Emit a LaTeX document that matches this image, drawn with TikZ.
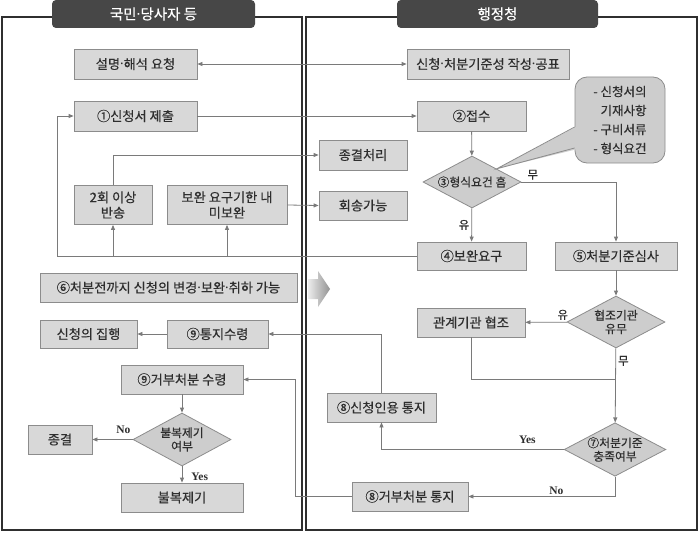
\documentclass[tikz,border=0pt]{standalone}
\usepackage{fontspec}
\setmainfont{Noto Sans CJK KR}[FakeBold=0.4]
\newfontfamily\tnr{Liberation Serif}
\newfontfamily\dotfont{Noto Sans}
\newcommand\mdot{{\dotfont ·}}
\usepackage{tikz}
\usetikzlibrary{arrows.meta, shapes.geometric, calc}
\definecolor{boxfill}{HTML}{D8D8D8}
\definecolor{dfill}{HTML}{CDCDCD}
\definecolor{boxline}{HTML}{8C8C8C}
\definecolor{conn}{HTML}{7A7A7A}
\definecolor{txt}{HTML}{2E2E2E}
\definecolor{tabfill}{HTML}{474747}
\definecolor{panelline}{HTML}{2F2F2F}

\begin{document}
\begin{tikzpicture}[x=1pt, y=-1pt, >={Triangle[length=5pt, width=4pt]},
    every node/.style={text=txt, font=\fontsize{13.2}{15.5}\selectfont},
    box/.style={draw=boxline, fill=boxfill, line width=0.8pt, inner sep=0pt, align=center},
    dbox/.style={diamond, draw=boxline, fill=dfill, line width=0.8pt, inner sep=0pt, aspect=1.9,
        align=center, minimum width=98, minimum height=52, font=\fontsize{11.8}{13.5}\selectfont},
    tab/.style={fill=tabfill, rounded corners=4pt, inner sep=0pt, minimum height=28,
        text=white, font=\fontsize{14.5}{16}\selectfont},
    note/.style={draw=boxline, fill=dfill, line width=0.8pt, rounded corners=12pt, inner sep=0pt,
        align=left, font=\fontsize{12.5}{19}\selectfont},
    panel/.style={draw=panelline, line width=1.6pt},
    line/.style={draw=conn, line width=0.8pt},
    yn/.style={font=\tnr\bfseries\fontsize{11.5}{13}\selectfont, inner sep=1pt},
    lab/.style={font=\fontsize{11.5}{13}\selectfont, inner sep=2pt}]
    \useasboundingbox (0,0) rectangle (700,532);

    \draw[panel] (2,17) rectangle (302,530);
    \draw[panel] (306,17) rectangle (697,530);
    \node[tab, minimum width=203] (lefttab) at (153.5,14) {국민\mdot 당사자 등};
    \node[tab, minimum width=201] (righttab) at (497.5,14) {행정청};

    \node[box, minimum width=123, minimum height=30] (req) at (135.5,64) {설명\mdot 해석 요청};
    \node[box, minimum width=162, minimum height=30] (pub) at (488,64) {신청\mdot 처분기준성 작성\mdot 공표};
    \node[box, minimum width=123, minimum height=30] (sub) at (135.5,116) {①신청서 제출};
    \node[box, minimum width=109, minimum height=30] (rcv) at (471.5,116) {②접수};
    \node[box, minimum width=88, minimum height=30] (close) at (363,155) {종결처리};
    \node[box, minimum width=88, minimum height=29] (ret) at (363,205.5) {회송가능};
    \node[box, minimum width=78, minimum height=39] (twice) at (113,205) {2회 이상\\반송};
    \node[box, minimum width=120, minimum height=39] (unfix) at (227,205) {보완 요구기한 내\\미보완};
    \node[dbox] (chk) at (472,182) {③형식요건 흠};
    \node[note, minimum width=90, minimum height=86] (memo) at (620,120)
        {- 신청서의\\\phantom{- }기재사항\\- 구비서류\\- 형식요건};
    \node[box, minimum width=109, minimum height=28] (fix) at (471.5,256) {④보완요구};
    \node[box, minimum width=122, minimum height=28] (rev) at (616,256) {⑤처분기준심사};
    \node[box, minimum width=257, minimum height=29] (chg) at (168.5,287.5) {⑥처분전까지 신청의 변경\mdot 보완\mdot 취하 가능};
    \node[box, minimum width=97, minimum height=28] (exe) at (88.5,334) {신청의 집행};
    \node[box, minimum width=101, minimum height=28] (ntc) at (217.5,334) {⑨통지수령};
    \node[box, minimum width=108, minimum height=29] (coop) at (471,322.5) {관계기관 협조};
    \node[dbox] (ask) at (616,322) {협조기관\\유무};
    \node[box, minimum width=109, minimum height=29] (grant) at (381.5,407.5) {⑧신청인용 통지};
    \node[dbox, minimum height=53] (std) at (615,449.5) {⑦처분기준\\충족여부};
    \node[box, minimum width=116, minimum height=29] (rej) at (410,496.5) {⑧거부처분 통지};
    \node[box, minimum width=122, minimum height=29] (rrc) at (182,379.5) {⑨거부처분 수령};
    \node[dbox, minimum height=53] (obj) at (182,439.5) {불복제기\\여부};
    \node[box, minimum width=64, minimum height=29] (fin) at (60,439.5) {종결};
    \node[box, minimum width=122, minimum height=29] (app) at (182,497.5) {불복제기};

    \coordinate (tip) at ($(chk.north)!0.5!(chk.east)$);
    \fill[dfill] (tip) -- ($(memo.west)+(3,6)$) -- ($(memo.west)+(3,29)$) -- cycle;
    \draw[draw=boxline, line width=0.8pt] ($(memo.west)+(0,7)$) -- (tip) -- ($(memo.west)+(0,28)$);

    \shade[left color=gray!15, right color=gray!85] (308,279) -- (318,279) -- (318,271) -- (330,289)
        -- (318,307) -- (318,299) -- (308,299) -- cycle;

    \coordinate (back) at (57,256);
    \coordinate (merge) at (616,379);
    \coordinate (rejturn) at (295,496.5);

    \draw[line, <->] (req) -- (pub);
    \draw[line, ->] (sub) -- (rcv);
    \draw[line, ->] (rcv) -- (chk);
    \draw[line, ->] (chk) -- (fix) node[lab, midway, left] (yu1) {유};
    \draw[line, ->] (chk.east) -| (rev.north) node[lab, pos=0.06, above] (mu1) {무};
    \draw[line, ->] (fix.west) -- (back) |- (sub.west);
    \draw[line, ->] (twice.south |- back) -- (twice.south);
    \draw[line, ->] (unfix.south |- back) -- (unfix.south);
    \draw[line, ->] (twice.north) |- (close.west);
    \draw[line, ->] (unfix.east) -- (ret.west);
    \draw[line, ->] (rev) -- (ask);
    \draw[line, ->] (ask) -- (coop) node[lab, pos=0.1, above] (yu2) {유};
    \draw[line, ->] (ask) -- (std) node[lab, pos=0.17, right] (mu2) {무};
    \draw[line] (coop.south) |- (merge);
    \draw[line, ->] (std.west) -| (grant.south) node[yn, pos=0.1, above, yshift=4pt] (yes1) {Yes};
    \draw[line, ->] (std.south) |- (rej.east) node[yn, pos=0.7, above] (no1) {No};
    \draw[line, ->] (grant.north) |- (ntc.east);
    \draw[line, ->] (rej.west) -- (rejturn) |- (rrc.east);
    \draw[line, ->] (ntc) -- (exe);
    \draw[line, ->] (rrc) -- (obj);
    \draw[line, ->] (obj) -- (fin) node[yn, pos=0.02, above left, yshift=4pt] (no2) {No};
    \draw[line, ->] (obj) -- (app) node[yn, midway, right, xshift=8pt, yshift=-2pt] (yes2) {Yes};
\end{tikzpicture}
\end{document}
